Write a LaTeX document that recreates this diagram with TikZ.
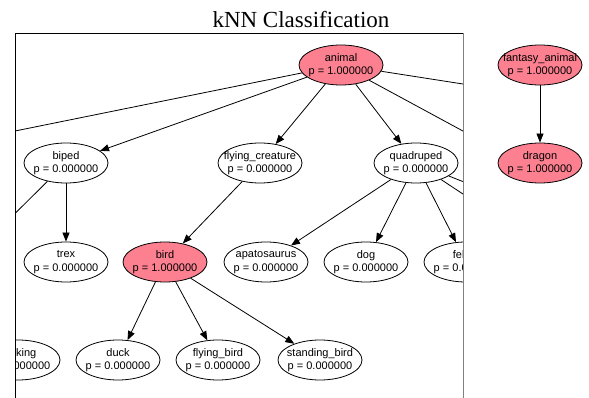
\documentclass[tikz,border=0pt]{standalone}
\usepackage{fontspec}
\setmainfont{Liberation Serif}
\setsansfont{Liberation Sans}
\usetikzlibrary{shapes.geometric,arrows.meta,positioning}
\definecolor{hitpink}{RGB}{252,128,144}
\newcommand{\clsnode}[2]{\makebox[0pt]{#1}\\\makebox[0pt]{p = #2}}

\begin{document}
\begin{tikzpicture}[
    x=1pt, y=-1pt,
    cls/.style={ellipse, draw, line width=0.8pt, minimum width=84pt, minimum height=40pt, inner sep=0pt, align=center, font=\sffamily\fontsize{11}{13.5}\selectfont},
    hit/.style={cls, fill=hitpink},
    arrow/.style={-{Triangle[length=9pt,width=7pt]}, line width=0.8pt}
]
\useasboundingbox (0,0) rectangle (589,398);

\node[font=\fontsize{23}{26}\selectfont] (title) at (301,20) {kNN Classification};

\begin{scope}
\clip (15,33) rectangle (463,400);

\node[hit] (animal) at (341,65) {\clsnode{animal}{1.000000}};

\node[cls] (biped) at (66,163) {\clsnode{biped}{0.000000}};
\node[cls] (flying) at (260,163) {\clsnode{flying\_creature}{0.000000}};
\node[cls] (quadruped) at (416,163) {\clsnode{quadruped}{0.000000}};

\node[cls] (trex) at (66,262) {\clsnode{trex}{0.000000}};
\node[hit] (bird) at (165,262) {\clsnode{bird}{1.000000}};
\node[cls] (apatosaurus) at (266,262) {\clsnode{apatosaurus}{0.000000}};
\node[cls] (dog) at (366,262) {\clsnode{dog}{0.000000}};
\node[cls] (feline) at (466,262) {\clsnode{feline}{0.000000}};

\node[cls] (walking) at (18,360) {\clsnode{walking}{0.000000}};
\node[cls] (duck) at (118,360) {\clsnode{duck}{0.000000}};
\node[cls] (flyingbird) at (218,360) {\clsnode{flying\_bird}{0.000000}};
\node[cls] (standing) at (320,360) {\clsnode{standing\_bird}{0.000000}};

% children that lie outside the frame
\coordinate (outA) at (-143,163);
\coordinate (outB) at (522,163);
\coordinate (outC) at (970,163);
\coordinate (outD) at (-34,262);
\coordinate (outE) at (566,262);
\coordinate (outF) at (666,262);

\draw[arrow] (animal) -- (outA);
\draw[arrow] (animal) -- (biped);
\draw[arrow] (animal) -- (flying);
\draw[arrow] (animal) -- (quadruped);
\draw[arrow] (animal) -- (outB);
\draw[arrow] (animal) -- (outC);

\draw[arrow] (biped) -- (outD);
\draw[arrow] (biped) -- (trex);
\draw[arrow] (flying) -- (bird);
\draw[arrow] (quadruped) -- (apatosaurus);
\draw[arrow] (quadruped) -- (dog);
\draw[arrow] (quadruped) -- (feline);
\draw[arrow] (quadruped) -- (outE);
\draw[arrow] (quadruped) -- (outF);

\draw[arrow] (bird) -- (duck);
\draw[arrow] (bird) -- (flyingbird);
\draw[arrow] (bird) -- (standing);
\end{scope}

% frame of the clipped view
\draw[line width=0.8pt] (15,400) -- (15,33) -- (463,33);
\draw[line width=0.8pt, gray] (463,33) -- (463,400);

\node[hit] (fantasy) at (540,65) {\clsnode{fantasy\_animal}{1.000000}};
\node[hit] (dragon) at (540,163) {\clsnode{dragon}{1.000000}};
\draw[arrow] (fantasy) -- (dragon);

\end{tikzpicture}
\end{document}
